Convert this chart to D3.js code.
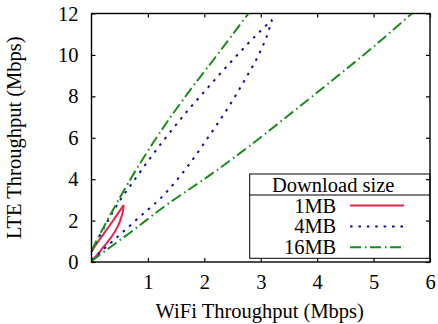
<!DOCTYPE html>
<html>
<head>
<meta charset="utf-8">
<script src="https://cdn.jsdelivr.net/npm/d3@7"></script>
<style>
  body { margin: 0; background: #fff; }
  text { font-family: "Liberation Serif", "Times New Roman", serif; font-size: 20.5px; fill: #000; }
</style>
</head>
<body>
<div id="chart"></div>
<script>
const svgWidth = 438;
const svgHeight = 324;

const margin = { top: 13.5, right: 8, bottom: 62, left: 91.5 };
const width = svgWidth - margin.left - margin.right;
const height = svgHeight - margin.top - margin.bottom;

// data: each size is a loop, lower branch and upper branch
const sizes = ["1MB", "4MB", "16MB"];
const colors = ["#e2264d", "#10109c", "#1a8c1a"];

const lower1MB = [[0, 0.05], [0.1, 0.34], [0.2, 0.68], [0.3, 1.02], [0.4, 1.4], [0.48, 1.8], [0.53, 2.18], [0.56, 2.5], [0.57, 2.75]];
const upper1MB = [[0, 0.5], [0.1, 0.92], [0.2, 1.3], [0.3, 1.68], [0.4, 2.07], [0.5, 2.47], [0.57, 2.75]];

const lower4MB = [[0, 0.1], [0.2, 0.58], [0.43, 1.14], [0.8, 2.05], [1.32, 3.35], [1.7, 4.6], [2.05, 5.95], [2.42, 7.45], [2.75, 8.95], [2.98, 10.1], [3.1, 10.85], [3.2, 11.7]];
const upper4MB = [[0, 0.5], [0.25, 1.8], [0.5, 2.95], [0.76, 3.96], [1.3, 5.95], [1.74, 7.42], [2.04, 8.35], [2.45, 9.6], [2.9, 10.9], [3.2, 11.7]];

const lower16MB = [[0, 0.05], [0.3, 0.65], [0.7, 1.45], [1.3, 2.7], [2.05, 4.1], [2.8, 5.6], [3.5, 7.1], [4.28, 8.8], [5.0, 10.4], [5.72, 12.1]];
const upper16MB = [[0, 0.55], [0.2, 1.6], [0.5, 3.1], [1.2, 6.2], [1.62, 7.83], [2.2, 9.9], [2.85, 12.25]];

const branches = [
  [lower1MB, upper1MB],
  [lower4MB, upper4MB],
  [lower16MB, upper16MB]
];

const xTicks = [1, 2, 3, 4, 5, 6];
const yTicks = [0, 2, 4, 6, 8, 10, 12];

const dashes = [null, "2.6,5.8", "11,4,1.6,3.4"];

const svg = d3.select("#chart")
  .append("svg")
  .attr("width", svgWidth)
  .attr("height", svgHeight);

const chartGroup = svg.append("g")
  .attr("transform", `translate(${margin.left}, ${margin.top})`);

const x = d3.scaleLinear().domain([0, 6]).range([0, width]);
const y = d3.scaleLinear().domain([0, 12]).range([height, 0]);

svg.append("defs").append("clipPath")
  .attr("id", "plotclip")
  .append("rect")
  .attr("width", width)
  .attr("height", height);

const line = d3.line()
  .x(d => x(d[0]))
  .y(d => y(d[1]))
  .curve(d3.curveMonotoneX);

const curves = chartGroup.append("g").attr("clip-path", "url(#plotclip)");

branches.forEach((pair, i) => {
  pair.forEach(pts => {
    curves.append("path")
      .attr("d", line(pts))
      .attr("fill", "none")
      .attr("stroke", colors[i])
      .attr("stroke-width", 2)
      .attr("stroke-dasharray", dashes[i]);
  });
});

// legend
const legend = chartGroup.append("g")
  .attr("transform", `translate(${249.7 - margin.left}, ${174 - margin.top})`);

legend.append("rect")
  .attr("width", 430 - 249.7)
  .attr("height", 84.3)
  .attr("fill", "#fff")
  .attr("stroke", "#000")
  .attr("stroke-width", 1);

legend.append("line")
  .attr("x1", 0).attr("x2", 430 - 249.7)
  .attr("y1", 21).attr("y2", 21)
  .attr("stroke", "#000")
  .attr("stroke-width", 1);

legend.append("text")
  .attr("x", 83.5)
  .attr("y", 18.3)
  .attr("text-anchor", "middle")
  .text("Download size");

sizes.forEach((s, i) => {
  legend.append("text")
    .attr("x", 86.6)
    .attr("y", 38.7 + i * 20.7)
    .attr("text-anchor", "end")
    .text(s);
  legend.append("line")
    .attr("x1", 100.3).attr("x2", 154.3)
    .attr("y1", 31.5 + i * 20.9).attr("y2", 31.5 + i * 20.9)
    .attr("stroke", colors[i])
    .attr("stroke-width", 2)
    .attr("stroke-dasharray", dashes[i]);
});

// axes, ticks pointing inwards on all sides
const bottomAxis = d3.axisBottom(x).tickValues(xTicks).tickFormat(d3.format("d"))
  .tickSizeInner(-4).tickSizeOuter(0).tickPadding(12);
const leftAxis = d3.axisLeft(y).tickValues(yTicks).tickFormat(d3.format("d"))
  .tickSizeInner(-4).tickSizeOuter(0).tickPadding(13);
const topAxis = d3.axisTop(x).tickValues(xTicks).tickSizeInner(-4).tickSizeOuter(0).tickFormat("");
const rightAxis = d3.axisRight(y).tickValues(yTicks).tickSizeInner(-4).tickSizeOuter(0).tickFormat("");

const serif = "'Liberation Serif', 'Times New Roman', serif";

[
  chartGroup.append("g").attr("transform", `translate(0, ${height})`).call(bottomAxis),
  chartGroup.append("g").call(leftAxis),
  chartGroup.append("g").call(topAxis),
  chartGroup.append("g").attr("transform", `translate(${width}, 0)`).call(rightAxis)
].forEach(g => {
  g.attr("font-family", serif).attr("font-size", 20.5);
  g.select(".domain").remove();
  g.selectAll(".tick line").attr("stroke", "#000").attr("stroke-width", 1.2);
  g.selectAll(".tick text")
    .style("font-family", serif)
    .style("font-size", "20.5px");
});

chartGroup.append("rect")
  .attr("width", width)
  .attr("height", height)
  .attr("fill", "none")
  .attr("stroke", "#000")
  .attr("stroke-width", 1.4);

// axis labels
chartGroup.append("text")
  .attr("x", width / 2 - 1)
  .attr("y", height + 56)
  .attr("text-anchor", "middle")
  .text("WiFi Throughput (Mbps)");

chartGroup.append("text")
  .attr("transform", "rotate(-90)")
  .attr("x", -height / 2)
  .attr("y", 20.5 - margin.left)
  .attr("text-anchor", "middle")
  .text("LTE Throughput (Mbps)");
</script>
</body>
</html>
